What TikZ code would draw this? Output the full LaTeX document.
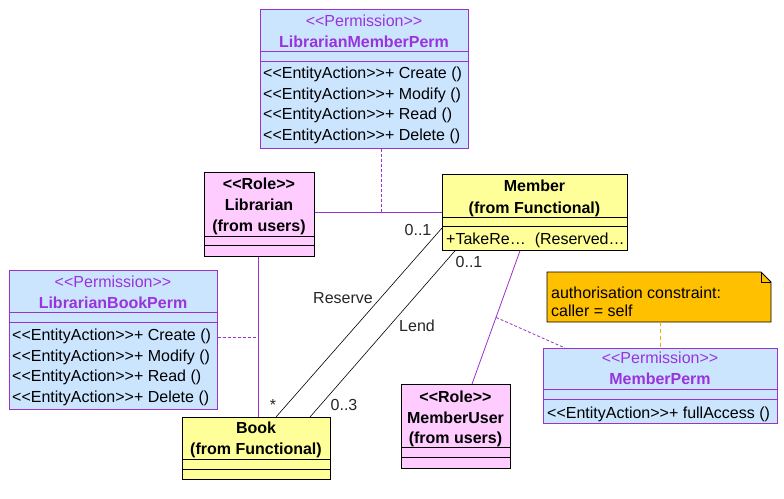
\documentclass[tikz,border=0pt]{standalone}
\usepackage{fontspec}
\newfontfamily\umlfont{Liberation Sans}
\newcommand\lgu{<\kern0pt<}
\newcommand\rgu{>\kern0pt>}
\definecolor{permfill}{RGB}{204,229,255}
\definecolor{permline}{RGB}{153,51,204}
\definecolor{permtext}{RGB}{153,51,221}
\definecolor{rolefill}{RGB}{255,204,255}
\definecolor{clsfill}{RGB}{255,255,153}
\definecolor{notefill}{RGB}{255,192,0}
\definecolor{notelink}{RGB}{230,180,0}
\tikzset{
  box/.style={anchor=north west, inner sep=0pt, line width=0.8pt},
  permbox/.style={box, draw=permline, fill=permfill},
  rolebox/.style={box, draw=black, fill=rolefill},
  clsbox/.style={box, draw=black, fill=clsfill},
  txt/.style={inner sep=0pt, anchor=base, font=\umlfont\fontsize{16}{19}\selectfont},
  ltxt/.style={txt, anchor=base west},
  btxt/.style={txt, font=\umlfont\bfseries\fontsize{16}{19}\selectfont},
  ster/.style={txt, text=permtext},
  pname/.style={btxt, text=permtext},
  assoc/.style={draw=permline, line width=0.8pt},
  perdash/.style={draw=permline, line width=0.8pt, dash pattern=on 3pt off 2pt},
  plain/.style={draw=black, line width=0.6pt},
  lbl/.style={txt, text=black!85}
}
\begin{document}
\begin{tikzpicture}[x=1pt,y=-1pt]
\useasboundingbox[fill=white] (0,0) rectangle (784,498);

% ---- LibrarianMemberPerm
\node[permbox, minimum width=208pt, minimum height=139pt] (lmp) at (260,9) {};
\draw[permline, line width=0.8pt] (lmp.west |- 0,51) -- (lmp.east |- 0,51);
\draw[permline, line width=0.8pt] (lmp.west |- 0,61) -- (lmp.east |- 0,61);
\node[ster] at (364,26) {\lgu Permission\rgu};
\node[pname] at (364,47) {LibrarianMemberPerm};
\node[ltxt] at (263,78) {\lgu EntityAction\rgu+ Create ()};
\node[ltxt] at (263,99) {\lgu EntityAction\rgu+ Modify ()};
\node[ltxt] at (263,119) {\lgu EntityAction\rgu+ Read ()};
\node[ltxt] at (263,140) {\lgu EntityAction\rgu+ Delete ()};

% ---- Librarian
\node[rolebox, minimum width=110pt, minimum height=84pt] (lib) at (204,172) {};
\draw[line width=0.8pt] (lib.west |- 0,236) -- (lib.east |- 0,236);
\draw[line width=0.8pt] (lib.west |- 0,245) -- (lib.east |- 0,245);
\node[btxt] at (259,189) {\lgu Role\rgu};
\node[btxt] at (259,210) {Librarian};
\node[btxt] at (259,231) {(from users)};

% ---- Member
\node[clsbox, minimum width=185pt, minimum height=76pt] (mem) at (442,174) {};
\draw[line width=0.8pt] (mem.west |- 0,217) -- (mem.east |- 0,217);
\draw[line width=0.8pt] (mem.west |- 0,226) -- (mem.east |- 0,226);
\node[btxt] at (534.5,191) {Member};
\node[btxt] at (534.5,213) {(from Functional)};
\node[ltxt] at (446,244) {+TakeRe…\hspace{9pt}(Reserved…};

% ---- LibrarianBookPerm
\node[permbox, minimum width=208pt, minimum height=139pt] (lbp) at (9,270) {};
\draw[permline, line width=0.8pt] (lbp.west |- 0,312) -- (lbp.east |- 0,312);
\draw[permline, line width=0.8pt] (lbp.west |- 0,322) -- (lbp.east |- 0,322);
\node[ster] at (113,287) {\lgu Permission\rgu};
\node[pname] at (113,308) {LibrarianBookPerm};
\node[ltxt] at (12,340) {\lgu EntityAction\rgu+ Create ()};
\node[ltxt] at (12,361) {\lgu EntityAction\rgu+ Modify ()};
\node[ltxt] at (12,381) {\lgu EntityAction\rgu+ Read ()};
\node[ltxt] at (12,402) {\lgu EntityAction\rgu+ Delete ()};

% ---- Book
\node[clsbox, minimum width=148pt, minimum height=62pt] (book) at (182,417) {};
\draw[line width=0.8pt] (book.west |- 0,459) -- (book.east |- 0,459);
\draw[line width=0.8pt] (book.west |- 0,469) -- (book.east |- 0,469);
\node[btxt] at (256,433) {Book};
\node[btxt] at (256,454) {(from Functional)};

% ---- MemberUser
\node[rolebox, minimum width=109pt, minimum height=84pt] (mu) at (401,384) {};
\draw[line width=0.8pt] (mu.west |- 0,447) -- (mu.east |- 0,447);
\draw[line width=0.8pt] (mu.west |- 0,457) -- (mu.east |- 0,457);
\node[btxt] at (455.5,402) {\lgu Role\rgu};
\node[btxt] at (455.5,423) {MemberUser};
\node[btxt] at (455.5,443) {(from users)};

% ---- MemberPerm
\node[permbox, minimum width=234pt, minimum height=75pt] (mp) at (543,348) {};
\draw[permline, line width=0.8pt] (mp.west |- 0,389) -- (mp.east |- 0,389);
\draw[permline, line width=0.8pt] (mp.west |- 0,399) -- (mp.east |- 0,399);
\node[ster] at (660,363) {\lgu Permission\rgu};
\node[pname] at (660,384) {MemberPerm};
\node[ltxt] at (547,418) {\lgu EntityAction\rgu+ fullAccess ()};

% ---- Note
\draw[line width=0.8pt, fill=notefill] (547,272) -- (761,272) -- (771,282) -- (771,322) -- (547,322) -- cycle;
\draw[line width=0.6pt] (761,272) -- (761,282) -- (771,282);
\node[ltxt] at (551,298) {authorisation constraint:};
\node[ltxt] at (551,316) {caller = self};
\coordinate (notebot) at (660,322);

% ---- connectors
\coordinate (j1) at (381,212);
\draw[assoc] (lib.east |- j1) -- (mem.west |- j1);
\draw[perdash] (lmp.south -| j1) -- (j1);

\coordinate (j2) at (258,337);
\draw[assoc] (lib.south -| j2) -- (book.north -| j2);
\draw[perdash] (lbp.east |- j2) -- (j2);

\coordinate (resM) at (442,228);
\coordinate (resB) at (276,417);
\draw[plain] (mem.west |- resM) -- (book.north -| resB);
\coordinate (lendM) at (455,250);
\coordinate (lendB) at (310,417);
\draw[plain] (mem.south -| lendM) -- (book.north -| lendB);

\coordinate (muM) at (520,250);
\coordinate (muU) at (472,384);
\draw[assoc] (mem.south -| muM) -- coordinate[pos=0.5] (j3) (mu.north -| muU);
\coordinate (mpT) at (565,348);
\draw[perdash] (j3) -- (mp.north -| mpT);

\draw[draw=notelink, line width=0.8pt, dash pattern=on 4pt off 3pt] (notebot) -- (mp.north -| notebot);

% ---- labels
\node[lbl] at (418,235) {0..1};
\node[lbl] at (469,267) {0..1};
\node[lbl] at (343,303) {Reserve};
\node[lbl] at (417,331) {Lend};
\node[lbl] at (273,410) {*};
\node[lbl] at (344,410) {0..3};
\end{tikzpicture}
\end{document}
